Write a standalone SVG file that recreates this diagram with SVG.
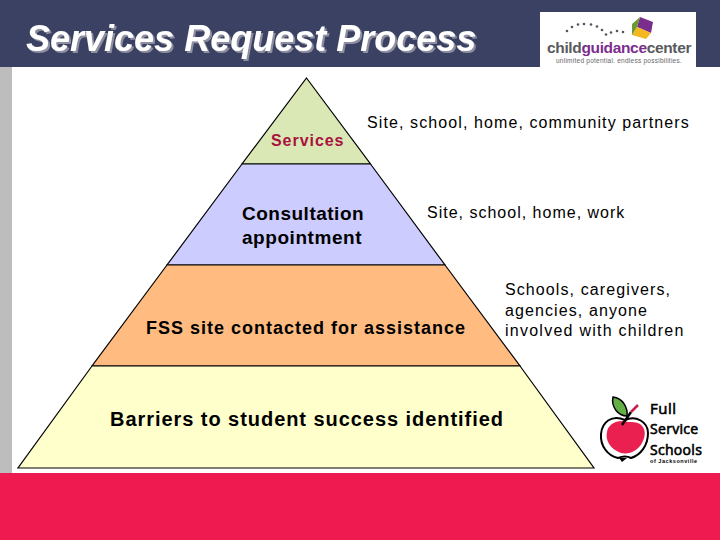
<svg xmlns="http://www.w3.org/2000/svg" width="720" height="540" viewBox="0 0 720 540">
<defs>
<filter id="shadow" x="-5%" y="-20%" width="110%" height="140%">
<feDropShadow dx="2" dy="2" stdDeviation="0.3" flood-color="#8d8fa0"/>
</filter>
</defs>
<style>
text{font-family:"Liberation Sans",Arial,sans-serif;fill:#000}
.b{font-weight:bold}
.lay{stroke:#000;stroke-width:1.2;stroke-linejoin:miter}
.sm{font-size:16px;letter-spacing:1.1px}
.title{font-size:36px;font-weight:bold;font-style:italic;filter:url(#shadow)}
.dot{fill:#55555f}
.ff{font-family:"Open Sans",sans-serif;font-weight:normal;fill:#000;stroke:#000;stroke-width:.6}
</style>
<rect width="720" height="540" fill="#fff"/>
<rect id="header" width="720" height="67" fill="#3b4162"/>
<rect id="side" y="67" width="12" height="406" fill="#bdbdbd"/>
<rect id="footer" y="473" width="720" height="67" fill="#ef1a50"/>
<g id="title">
<text class="title" x="26" y="51" style="fill:#fff">Services Request Process</text>
</g>
<g id="logo-cgc">
<rect x="540" y="12" width="156" height="55" fill="#fff"/>
<g class="dot"><circle cx="567" cy="31" r="1.3"/><circle cx="572" cy="27" r="1.3"/><circle cx="578" cy="24.500" r="1.300"/><circle cx="584" cy="24" r="1.300"/><circle cx="591" cy="24.500" r="1.300"/><circle cx="597" cy="26.500" r="1.300"/><circle cx="602" cy="30" r="1.300"/><circle cx="606" cy="34.500" r="1.300"/><circle cx="611" cy="32.500" r="1.300"/><circle cx="617" cy="31" r="1.300"/><circle cx="623" cy="32" r="1.300"/></g>
<polygon points="640,17 653,22 651,33 637,27" fill="#7b2d8e"/>
<polygon points="637,27 651,33 646,39 632,35" fill="#f3b81f"/>
<polygon points="640,17 637,27 632,35 632,24" fill="#6b9a35"/>
<text x="547" y="53" style="font-size:15.500px;font-weight:bold;letter-spacing:-.35px;fill:#5a5a5e">child<tspan style="fill:#7b2d8e">guidance</tspan>center</text>
<text x="556" y="63" style="font-size:6.500px;letter-spacing:.25px;fill:#66666a">unlimited potential. endless possibilities.</text>
</g>
<g id="layer-services">
<polygon class="lay" points="306.500,78 370.500,164 242,164" fill="#d9e8b4"/>
<text class="b" x="271" y="146" style="font-size:16px;fill:#a8123f;letter-spacing:.95px">Services</text>
</g>
<g id="layer-consultation">
<polygon class="lay" points="242,164 370.500,164 445,265 167,265" fill="#ccccff"/>
<text class="b" x="242" y="220" style="font-size:19px;letter-spacing:.5px">Consultation</text>
<text class="b" x="242" y="244" style="font-size:19px;letter-spacing:.55px">appointment</text>
</g>
<g id="layer-fss">
<polygon class="lay" points="167,265 445,265 520,366 92,366" fill="#ffbb80"/>
<text class="b" x="146" y="334" style="font-size:18px;letter-spacing:1px">FSS site contacted for assistance</text>
</g>
<g id="layer-barriers">
<polygon class="lay" points="92,366 520,366 594,468 18,468" fill="#ffffcc"/>
<text class="b" x="110" y="426" style="font-size:20px;letter-spacing:.95px">Barriers to student success identified</text>
</g>
<g id="labels">
<text class="sm" x="367" y="128">Site, school, home, community partners</text>
<text class="sm" x="427" y="218" style="letter-spacing:1px">Site, school, home, work</text>
<text class="sm" x="505" y="295">Schools, caregivers,</text>
<text class="sm" x="505" y="316">agencies, anyone</text>
<text class="sm" x="505" y="336" style="letter-spacing:1.25px">involved with children</text>
</g>
<g id="logo-fss">
<path d="M625 420C612 414 602 422 601 434C600 446 608 456 618 458C623 456 627 456 631 458C641 455 648 445 648 433C648 422 636 415 625 420Z" fill="#fff" stroke="#000" stroke-width="2"/>
<path d="M628 422C618 419 608 424 607 432C605 440 610 449 621 453C630 455 638 450 642 443C646 436 646 428 640 424C636 422 632 422 628 422Z" fill="#ea2050"/>
<path d="M619 458l3 4l5-4z" fill="#000"/>
<path d="M622 425L631 412" stroke="#000" stroke-width="2.500" fill="none"/>
<path d="M631 412L638 405" stroke="#c8204a" stroke-width="2.500" fill="none"/>
<path d="M613 397C623 398 628 408 627 416C618 416 611 407 613 397Z" fill="#64b045" stroke="#000" stroke-width="1.500"/>
<text class="ff" x="650" y="414" style="font-size:15px;letter-spacing:.5px">Full</text>
<text class="ff" x="650" y="434" style="font-size:14px;letter-spacing:.3px">Service</text>
<text class="ff" x="650" y="455" style="font-size:14px;letter-spacing:.3px">Schools</text>
<text x="650" y="463" style="font-size:5.500px;letter-spacing:.55px;font-weight:bold">of Jacksonville</text>
</g>
</svg>
